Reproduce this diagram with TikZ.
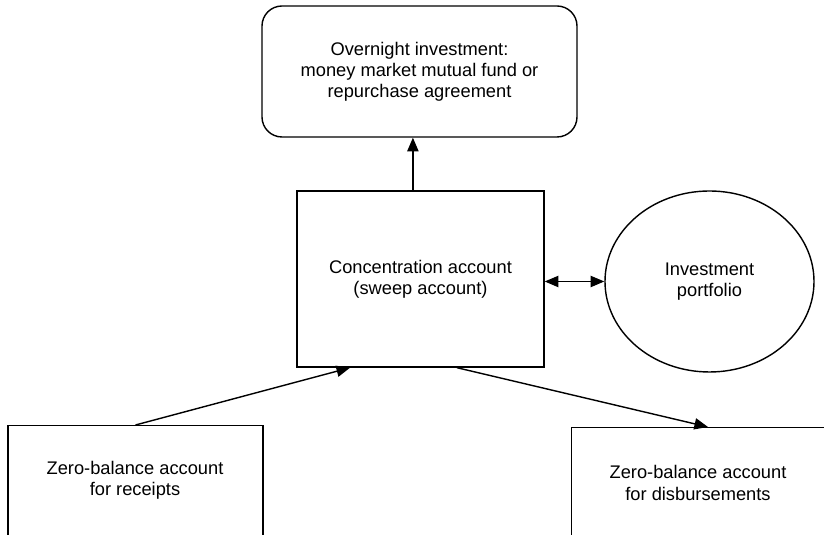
\documentclass[tikz,border=0pt]{standalone}
\usepackage{fontspec}
\setmainfont{Liberation Sans}
\usepackage{tikz}
\usetikzlibrary{arrows.meta,shapes.geometric}

\begin{document}
\begin{tikzpicture}[
        every node/.style={font=\fontsize{13}{15}\selectfont, align=center},
        acct/.style={draw, line width=1pt, inner sep=0pt},
        flow/.style={line width=1pt, -{Triangle[length=3.4mm,width=2.8mm]}},
        twoway/.style={line width=1pt, {Triangle[length=3.4mm,width=2.8mm]}-{Triangle[length=3.4mm,width=2.8mm]}}
    ]
        \clip (0,0) rectangle (20.6,13.375);
        \node[acct, rounded corners=0.5cm, minimum width=7.875cm, minimum height=3.275cm] (overnight) at (10.4875,11.5875)
            {Overnight investment:\\money market mutual fund or\\repurchase agreement};
        \node[acct, minimum width=6.175cm, minimum height=4.4cm] (conc) at (10.5125,6.4)
            {Concentration account\\(sweep account)};
        \node[acct, ellipse, minimum width=5.225cm, minimum height=4.525cm] (portfolio) at (17.7375,6.3375)
            {Investment\\portfolio};
        % bottom boxes run off the page
        \node[acct, anchor=north, minimum width=6.375cm, minimum height=3.75cm] (receipts) at (3.3875,2.75) {};
        \node[acct, anchor=north west, minimum width=10cm, minimum height=3.7cm] (disb) at (14.275,2.7) {};
        \coordinate (disbin) at ([xshift=3.425cm]disb.north west);
        \node (receiptslabel) at (3.375,1.375) {Zero-balance account\\for receipts};
        \node (disblabel) at (17.45,1.3) {Zero-balance account\\for disbursements};

        \draw[flow] ([xshift=-0.19cm]conc.north) -- ([xshift=-0.19cm]conc.north |- overnight.south);
        \draw[twoway] (portfolio.west -| conc.east) -- (portfolio.west);
        \draw[flow] (receipts.north) -- ([xshift=-1.76cm]conc.south);
        \draw[flow] ([xshift=0.91cm]conc.south) -- (disbin);
    \end{tikzpicture}
\end{document}
